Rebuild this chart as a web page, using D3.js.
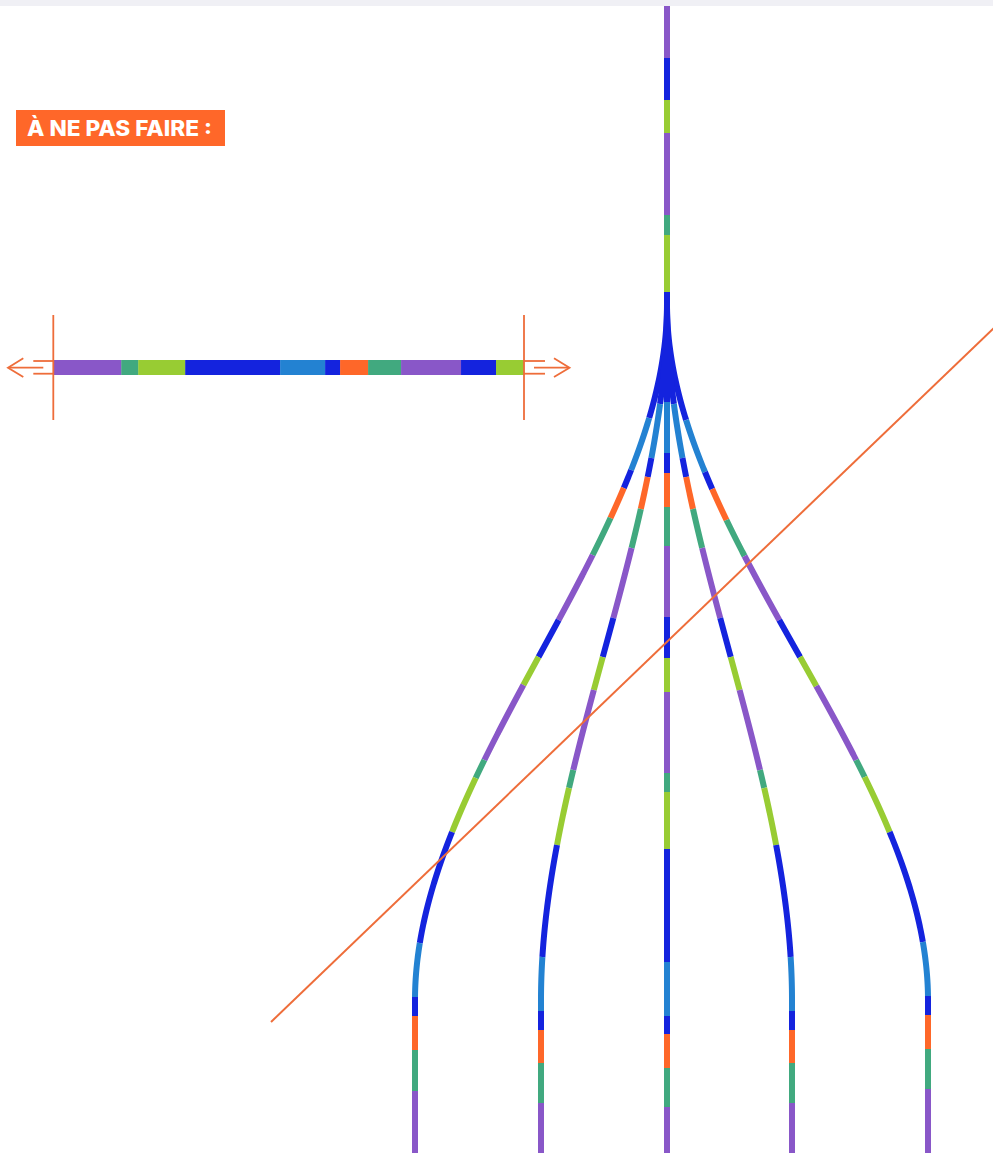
<!DOCTYPE html>
<html><head><meta charset="utf-8">
<script src="https://cdn.jsdelivr.net/npm/d3@7"></script>
<style>html,body{margin:0;padding:0;background:#fff;overflow:hidden}</style>
</head><body><svg id="c" width="993" height="1153"></svg>
<script>
// ---- data ----
const palette = {purple:"#8957C8", teal:"#41A97F", green:"#98CC33", blue:"#1423DE", lightBlue:"#2382D2", orange:"#FE6729"};
const labelText = "À NE PAS FAIRE :";
const barColors = ["purple","teal","green","blue","lightBlue","blue","orange","teal","purple","blue","green"];
const barLengths = [68,17,47,95,45,15,28,33,60,35,28];
const trunkColors = ["purple","blue","green","purple","teal","green","blue"];
const trunkBreaks = [6,58,100,133,215,235,292,305];
const branchColors = ["blue","lightBlue","blue","orange","teal","purple","blue","green","purple","teal","green","blue","lightBlue","blue","orange","teal","purple"];
const branchOffsets = [-252,-126,0,125,261];
const branch1Breaks = [305,418,470,488,518,555,620,657,685,760,778,832,943,997,1016,1050,1091,1153];
const branch2Breaks = [305,404,458,477,509,548,618,657,690,770,788,845,957,1011,1030,1063,1103,1153];
const branch3Breaks = [305,402,453,473,507,546,617,658,692,773,792,849,962,1016,1034,1068,1107,1153];
const branch4Breaks = [305,404,458,477,509,548,618,657,690,770,788,845,957,1011,1030,1063,1103,1153];
const branch5Breaks = [305,420,472,489,520,556,620,657,686,760,777,832,942,996,1015,1049,1089,1153];
const branchBreaks = [branch1Breaks,branch2Breaks,branch3Breaks,branch4Breaks,branch5Breaks];

// ---- layout ----
const W = 993, H = 1153;
const svg = d3.select("#c");
const x = d3.scaleLinear().domain([-667, 326]).range([0, W]);
const y = d3.scaleLinear().domain([0, H]).range([0, H]);
const color = d3.scaleOrdinal().domain(Object.keys(palette)).range(Object.values(palette));
const annot = "#EE6D3A";
const forkY = 305, bendY = 1000;

svg.append("rect").attr("x",0).attr("y",0).attr("width",W).attr("height",6).attr("fill","#F0F0F5");

// trunk
const gT = svg.append("g");
trunkColors.forEach((c,i)=>{
  gT.append("line").attr("x1",x(0)).attr("x2",x(0))
    .attr("y1",y(trunkBreaks[i])).attr("y2",y(trunkBreaks[i+1]))
    .attr("stroke",color(c)).attr("stroke-width",6);
});

// branches
const smooth = s => { s = Math.max(0, Math.min(1, s)); return 3*s*s - 2*s*s*s; };
const line = d3.line().x(d=>d[0]).y(d=>d[1]);
const gB = svg.append("g");
const order = [0,4,1,3,2];
order.forEach(bi=>{
  const off = branchOffsets[bi], br = branchBreaks[bi];
  branchColors.forEach((c,j)=>{
    const ys = d3.range(br[j], br[j+1], 1).concat([br[j+1]]);
    const pts = ys.map(v=>[x(off*smooth((v-forkY)/(bendY-forkY))), y(v)]);
    gB.append("path").attr("d", line(pts)).attr("fill","none")
      .attr("stroke", color(c)).attr("stroke-width", 6).attr("stroke-linecap","butt");
  });
});

// horizontal bar
const barX = d3.scaleLinear().domain([0, d3.sum(barLengths)]).range([53.3, 524]);
let acc = 0;
const gBar = svg.append("g");
barLengths.forEach((l,i)=>{
  gBar.append("rect").attr("x",barX(acc)).attr("y",360).attr("width",barX(acc+l)-barX(acc)+0.3).attr("height",15)
    .attr("fill",color(barColors[i]));
  acc += l;
});

// bar annotations
const gA = svg.append("g").attr("stroke",annot).attr("stroke-width",1.8).attr("fill","none");
const seg = (a,b,c,d)=>gA.append("line").attr("x1",a).attr("y1",b).attr("x2",c).attr("y2",d);
seg(53.3,315,53.3,420); seg(524,315,524,420);
seg(33.3,361,53.3,361); seg(33.3,373.7,53.3,373.7); seg(9.5,367.7,43.3,367.7);
gA.append("path").attr("d","M23.3,358.3L8,367.7L23.3,377.1");
seg(524,361,545,361); seg(524,373.7,545,373.7); seg(534,367.7,568.5,367.7);
gA.append("path").attr("d","M554,358.3L569.5,367.7L554,377.1");

// diagonal strike line
svg.append("line").attr("x1",271).attr("y1",1022).attr("x2",1000).attr("y2",1022-729*0.96)
  .attr("stroke",annot).attr("stroke-width",2);

// label
svg.append("rect").attr("x",16).attr("y",110).attr("width",209).attr("height",36).attr("fill","#FF6729");
svg.append("text").attr("x",27).attr("y",135.5).text(labelText)
  .attr("fill","#fff").attr("font-family","Inter, 'Noto Sans', sans-serif").attr("font-weight",800)
  .attr("font-size",21).attr("textLength",185).attr("lengthAdjust","spacingAndGlyphs");
</script></body></html>
